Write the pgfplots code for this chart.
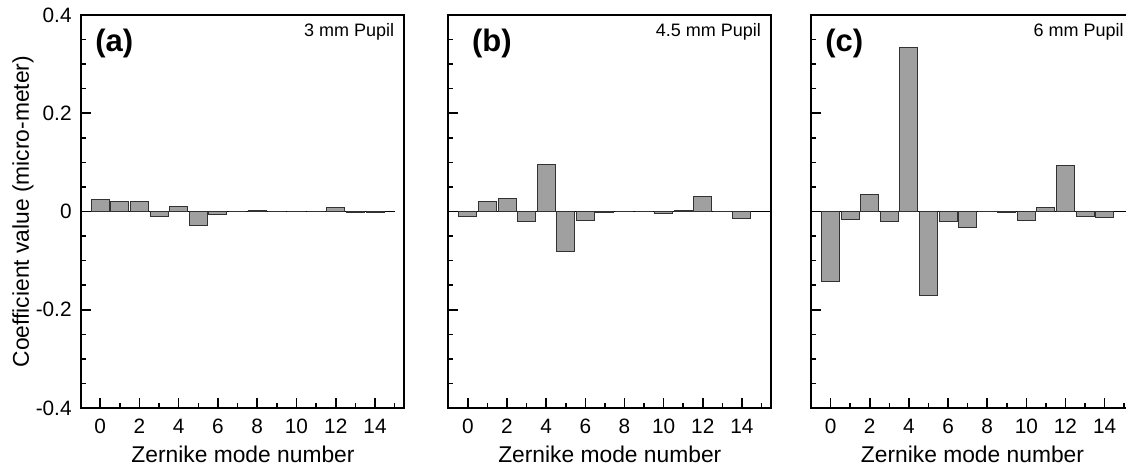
\documentclass[border=0pt]{standalone}
\usepackage{pgfplots}
\pgfplotsset{compat=1.18}
\usepackage{fontspec}
\setmainfont{Liberation Sans}
\definecolor{barfill}{RGB}{160,160,160}
\definecolor{baredge}{RGB}{50,50,50}
\pgfplotsset{
  zpanel/.style={
    anchor=south west,
    scale only axis,
    width=161.5pt, height=196.5pt,
    xmin=-1, xmax=15.5,
    ymin=-0.4, ymax=0.4,
    xtick={0,2,4,6,8,10,12,14},
    minor xtick={1,3,5,7,9,11,13,15},
    ytick={-0.4,-0.2,0,0.2,0.4},
    minor ytick={-0.35,-0.3,-0.25,-0.15,-0.1,-0.05,0.05,0.1,0.15,0.25,0.3,0.35},
    tick pos=left,
    tick align=inside,
    major tick length=5pt,
    minor tick length=2.5pt,
    every tick/.style={black, line width=0.8pt},
    axis line style={line width=1pt},
    /pgf/number format/assume math mode=true,
    tick label style={font=\fontsize{10.4}{12}\selectfont},
    xticklabel style={anchor=base, inner sep=0pt, yshift=-12.5pt},
    yticklabel style={anchor=east, inner sep=0pt, xshift=-4.75pt},
    label style={font=\fontsize{11.4}{13}\selectfont},
    xlabel={Zernike mode number},
    x label style={at={(axis description cs:0.5,0)}, anchor=base, inner sep=0pt, yshift=-27pt},
  },
  zbar/.style={ybar, bar width=0.92, bar shift=0pt, fill=barfill, draw=baredge, line width=0.5pt},
}
\begin{document}
\begin{tikzpicture}
% (a) 3 mm pupil
\begin{axis}[zpanel, at={(40.75pt,30pt)}, xmin=-0.95,
  yticklabels={-0.4,-0.2,0,0.2,0.4},
  ylabel={Coefficient value (micro-meter)},
  y label style={at={(axis description cs:-0.181,0.5)}, anchor=center, inner sep=0pt, rotate=0},
]
\addplot[black, line width=0.5pt] coordinates {(-0.95,0) (15,0)};
\addplot[zbar] coordinates {
(0,0.025) (1,0.020) (2,0.020) (3,-0.011) (4,0.010) (5,-0.029) (6,-0.007) (7,0.000)
(8,0.002) (9,0.000) (10,-0.001) (11,0.000) (12,0.008) (13,-0.002) (14,-0.003)};
\node[anchor=base west, inner sep=0pt, font=\fontsize{15.5}{17}\selectfont\bfseries] at ([xshift=6.75pt,yshift=-18.35pt]rel axis cs:0,1) {(a)};
\node[anchor=base east, inner sep=0pt, font=\fontsize{9}{10}\selectfont] at ([xshift=-5pt,yshift=-10.85pt]rel axis cs:1,1) {3 mm Pupil};
\end{axis}
% (b) 4.5 mm pupil
\begin{axis}[zpanel, at={(224.15pt,30pt)}, yticklabels={}]
\addplot[black, line width=0.5pt] coordinates {(-1,0) (15.5,0)};
\addplot[zbar] coordinates {
(0,-0.010) (1,0.021) (2,0.027) (3,-0.020) (4,0.096) (5,-0.081) (6,-0.018) (7,-0.002)
(8,0.000) (9,0.000) (10,-0.004) (11,0.002) (12,0.030) (13,-0.001) (14,-0.014)};
\node[anchor=base west, inner sep=0pt, font=\fontsize{15.5}{17}\selectfont\bfseries] at ([xshift=11.7pt,yshift=-18.35pt]rel axis cs:0,1) {(b)};
\node[anchor=base east, inner sep=0pt, font=\fontsize{9}{10}\selectfont] at ([xshift=-5pt,yshift=-10.85pt]rel axis cs:1,1) {4.5 mm Pupil};
\end{axis}
% (c) 6 mm pupil
\begin{axis}[zpanel, at={(405.5pt,30pt)}, yticklabels={}]
\addplot[black, line width=0.5pt] coordinates {(-1,0) (15.5,0)};
\addplot[zbar] coordinates {
(0,-0.143) (1,-0.017) (2,0.034) (3,-0.020) (4,0.334) (5,-0.171) (6,-0.021) (7,-0.033)
(8,0.001) (9,-0.002) (10,-0.019) (11,0.009) (12,0.094) (13,-0.010) (14,-0.012)};
\node[anchor=base west, inner sep=0pt, font=\fontsize{15.5}{17}\selectfont\bfseries] at ([xshift=7pt,yshift=-18.35pt]rel axis cs:0,1) {(c)};
\node[anchor=base east, inner sep=0pt, font=\fontsize{9}{10}\selectfont] at ([xshift=-5pt,yshift=-10.85pt]rel axis cs:1,1) {6 mm Pupil};
\end{axis}
\pgfresetboundingbox
\useasboundingbox (0pt,0pt) rectangle (563pt,234pt);
\end{tikzpicture}
\end{document}
